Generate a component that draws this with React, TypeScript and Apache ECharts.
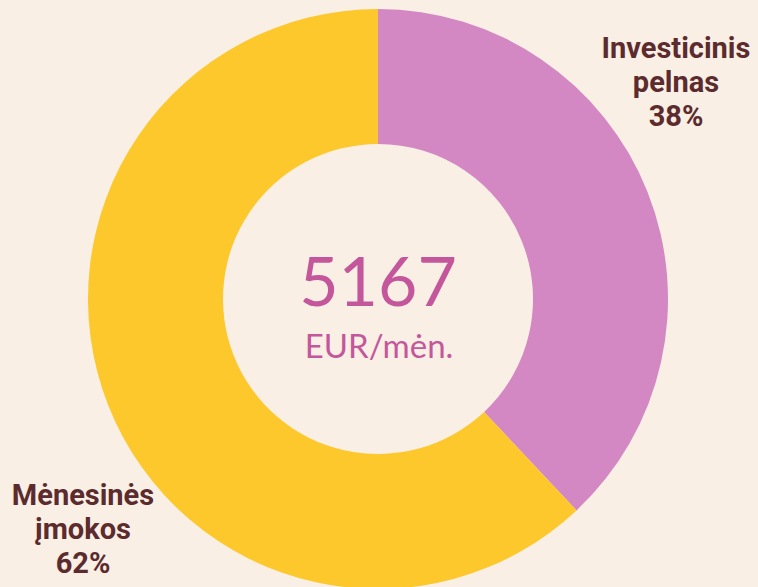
import React, { useEffect, useRef } from "react";
import * as echarts from "echarts";

const categories = ["Investicinis\npelnas", "Mėnesinės\nįmokos"];
const shares = [38, 62];
const colors = ["#d388c4", "#fdc82b"];
const totalValue = "5167";
const unitLabel = "EUR/mėn.";

export default function App() {
  const ref = useRef<HTMLDivElement>(null);
  useEffect(() => {
    const chart = echarts.init(ref.current!, null, { renderer: "svg" });
    const labelPos = [
      { x: 676, y: 31 },
      { x: 83, y: 478 },
    ];
    chart.setOption({
      animation: false,
      backgroundColor: "#f9efe5",
      series: [
        {
          type: "pie",
          center: [378, 299],
          radius: [155, 290],
          startAngle: 90,
          clockwise: true,
          silent: true,
          label: { show: false },
          labelLine: { show: false },
          itemStyle: { borderWidth: 0 },
          data: categories.map((c, i) => ({
            name: c,
            value: shares[i],
            itemStyle: { color: colors[i] },
          })),
        },
      ],
      graphic: [
        ...categories.map((c, i) => ({
          type: "text",
          x: labelPos[i].x,
          y: labelPos[i].y,
          style: {
            text: `${c}\n${shares[i]}%`,
            fill: "#5b2b2e",
            font: "bold 29px Roboto",
            lineHeight: 34,
            align: "center",
            verticalAlign: "top",
          },
        })),
        {
          type: "text",
          x: 378,
          y: 279,
          style: {
            text: totalValue,
            fill: "#c4579c",
            font: "68px Lato",
            align: "center",
            verticalAlign: "middle",
          },
        },
        {
          type: "text",
          x: 379,
          y: 345,
          style: {
            text: unitLabel,
            fill: "#c4579c",
            font: "33px Lato",
            align: "center",
            verticalAlign: "middle",
          },
        },
      ],
    });
    return () => chart.dispose();
  }, []);
  return (
    <div
      ref={ref}
      style={{ position: "fixed", left: 0, top: 0, width: 758, height: 587 }}
    />
  );
}
